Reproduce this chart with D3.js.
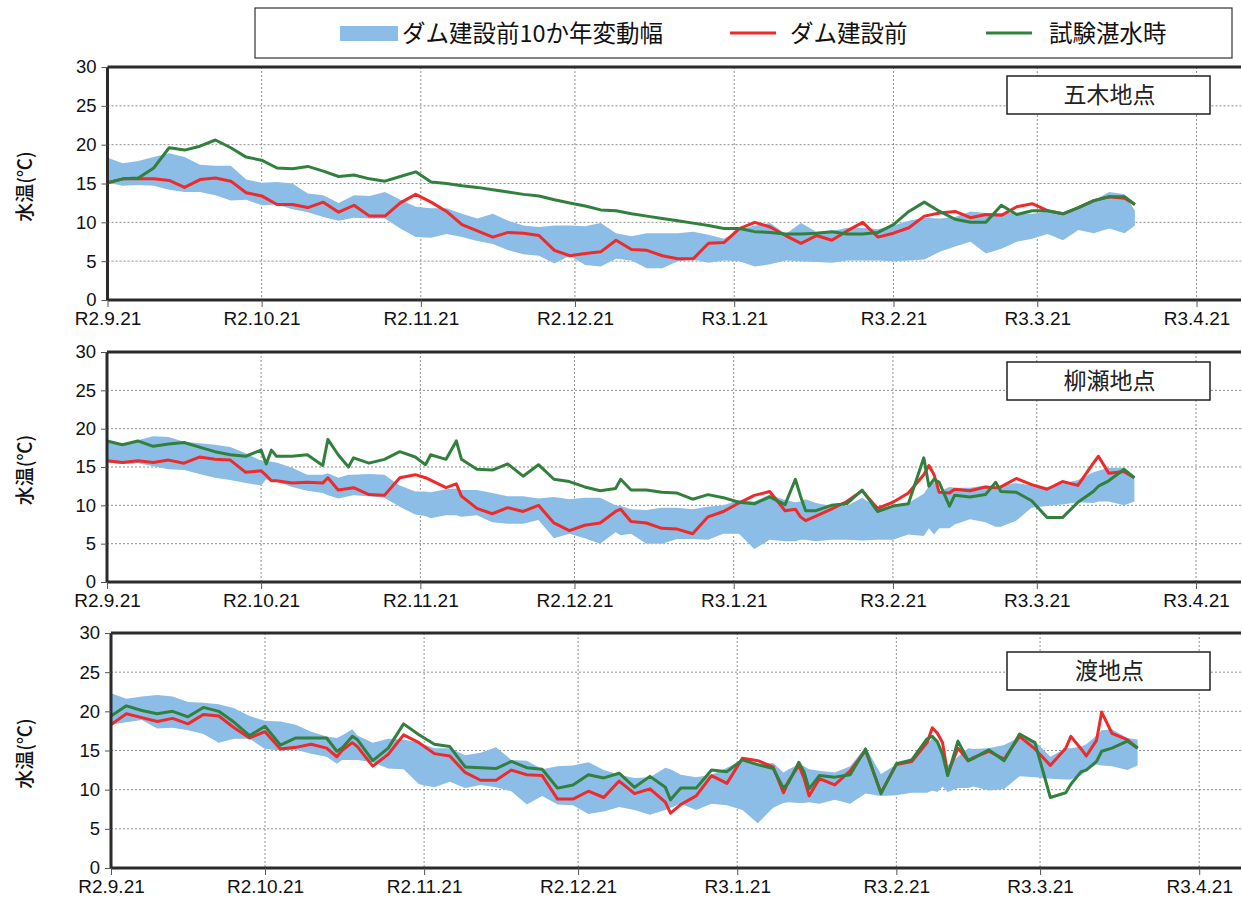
<!DOCTYPE html>
<html><head><meta charset="utf-8">
<script src="https://cdn.jsdelivr.net/npm/d3@7"></script>
<style>body{margin:0;background:#fff}</style>
</head><body>
<svg id="c" width="1242" height="904"></svg>
<script>
// ---------- DATA ----------
const startDate = new Date(2020, 8, 21); // R2.9.21
const tickDates = ["2020-09-21","2020-10-21","2020-11-21","2020-12-21","2021-01-21","2021-02-21","2021-03-21","2021-04-21"];
const tickLabels = ["R2.9.21","R2.10.21","R2.11.21","R2.12.21","R3.1.21","R3.2.21","R3.3.21","R3.4.21"];
const yTicks = [0,5,10,15,20,25,30];
const stations = ["五木地点","柳瀬地点","渡地点"];
const legendLabels = ["ダム建設前10か年変動幅","ダム建設前","試験湛水時"];

// days since R2.9.21
const days1 = [0,3,6,9,12,15,18,21,24,27,30,33,36,39,42,45,48,51,54,57,60,63,66,69,72,75,78,81,84,87,90,93,96,99,102,105,108,111,114,117,120,123,126,129,132,135,138,141,144,147,150,153,156,159,162,165,168,171,174,177,180,183,186,189,192,195,198,200];
const bandLo1 = [15.1,14.7,14.8,14.7,14.2,13.9,13.9,13.5,12.8,12.9,12.2,12.3,11.7,11.3,10.7,10.2,10.6,10.5,10.5,9.2,8.1,8.0,8.5,8.1,7.6,7.2,6.4,5.9,5.7,4.7,5.7,4.5,4.3,5.3,5.1,4.1,4.1,5.0,5.2,4.8,5.1,5.0,4.3,4.6,5.1,5.0,4.9,4.8,5.1,5.1,5.1,5.0,5.1,5.2,6.2,6.9,7.5,6.0,6.6,7.5,7.9,8.5,7.7,9.0,8.6,9.2,8.6,9.6];
const bandHi1 = [18.3,17.6,17.9,18.4,18.9,18.4,17.4,17.3,17.3,15.5,15.1,15.2,15.0,13.7,13.5,12.5,13.5,13.4,13.9,12.9,12.0,11.8,11.8,11.1,10.5,11.1,10.2,9.6,9.4,9.6,9.6,9.5,9.9,8.6,8.2,8.6,8.6,8.6,8.8,8.4,7.9,9.0,9.6,9.9,8.5,9.9,8.8,8.9,9.3,9.3,9.1,9.6,10.2,10.6,10.5,10.7,11.4,11.2,11.2,11.2,11.1,11.4,11.2,12.0,12.8,13.9,13.6,11.5];
const before1 = [15.1,15.6,15.6,15.6,15.4,14.5,15.5,15.7,15.3,13.8,13.4,12.3,12.3,11.9,12.6,11.3,12.2,10.8,10.8,12.5,13.6,12.6,11.4,9.7,8.9,8.1,8.7,8.6,8.3,6.4,5.7,6.0,6.2,7.7,6.5,6.4,5.7,5.3,5.3,7.3,7.4,9.2,10.0,9.4,8.3,7.3,8.3,7.7,8.9,10.0,8.1,8.6,9.3,10.8,11.2,11.4,10.6,11.0,10.9,12.0,12.4,11.5,11.1,11.9,12.8,13.3,13.1,12.3];
const trial1 = [15.1,15.6,15.7,17.0,19.6,19.3,19.8,20.6,19.6,18.4,18.0,17.0,16.9,17.2,16.6,15.9,16.1,15.6,15.3,15.9,16.5,15.2,15.0,14.7,14.5,14.2,13.9,13.6,13.4,12.9,12.5,12.1,11.6,11.5,11.1,10.8,10.5,10.2,9.9,9.6,9.2,9.2,8.8,8.7,8.5,8.5,8.6,8.8,8.5,8.5,8.7,9.7,11.4,12.6,11.4,10.4,10.0,10.0,12.2,11.0,11.5,11.5,11.1,11.9,12.8,13.3,13.3,12.3];

const days2 = [0,3,6,9,12,15,18,21,24,27,30,31,32,33,36,39,42,43,45,47,48,51,54,57,60,62,63,66,68,69,72,75,78,81,84,87,90,93,96,99,100,102,105,108,111,114,117,120,123,126,129,132,134,135,136,138,141,144,147,150,153,156,159,160,161,162,164,165,168,171,173,174,177,180,183,186,189,192,193,195,198,200];
const bandLo2 = [15.6,15.4,15.5,15.1,14.7,14.6,14.1,13.6,13.3,12.9,12.6,13.4,13.1,13.1,12.4,11.9,11.6,11.3,10.9,11.2,11.3,11.2,11.0,9.8,8.8,8.6,8.3,8.7,8.7,8.5,8.7,7.8,7.6,7.6,8.1,5.7,6.3,5.7,5.0,6.5,6.1,6.3,5.0,5.0,5.6,5.6,5.5,6.3,6.3,4.3,5.5,5.3,5.3,5.5,5.5,5.3,5.5,5.5,5.4,5.5,5.5,6.2,6.0,7.0,6.2,7.0,7.0,7.5,8.2,7.8,7.2,7.2,8.0,9.7,9.9,10.1,10.4,10.3,10.5,10.5,10.0,10.5];
const bandHi2 = [18.4,18.0,18.5,19.0,18.9,18.3,18.1,17.9,17.6,16.8,15.8,15.8,15.7,15.6,14.9,14.0,14.0,14.2,13.6,14.0,14.0,14.1,14.0,12.6,11.8,11.8,11.7,12.1,12.2,12.0,12.0,11.6,11.2,11.2,10.9,11.1,10.8,11.0,11.0,10.0,9.9,9.5,9.4,9.7,9.7,9.5,9.8,10.0,10.7,10.5,11.4,10.7,10.4,10.5,10.8,10.3,9.9,9.9,11.0,9.7,9.9,10.3,11.5,12.5,13.0,11.8,12.4,12.3,12.3,12.6,12.4,12.6,12.9,12.6,12.4,12.8,13.3,14.3,14.5,14.9,14.9,13.5];
const before2 = [15.8,15.6,15.8,15.6,15.9,15.5,16.3,16.0,15.9,14.3,14.5,13.9,13.2,13.2,12.9,13.0,12.9,13.6,12.0,12.2,12.3,11.4,11.3,13.6,14.0,13.6,13.3,12.3,12.8,11.2,9.6,8.9,9.7,9.2,10.0,7.7,6.7,7.4,7.7,9.2,9.5,7.9,7.7,7.0,6.9,6.3,8.5,9.2,10.3,11.3,11.8,9.3,9.5,8.5,8.0,8.6,9.5,10.5,11.9,9.6,10.4,11.6,14.0,15.2,14.0,11.7,11.6,12.1,11.9,12.4,12.3,12.4,13.5,12.7,12.1,13.1,12.6,15.5,16.4,14.2,14.4,13.6];
const trial2 = [18.4,17.9,18.4,17.7,18.0,18.2,17.6,17.0,16.6,16.4,17.2,15.4,17.2,16.4,16.4,16.6,15.2,18.6,16.6,15.0,16.2,15.5,16.0,17.0,16.3,15.3,16.6,16.0,18.4,16.0,14.7,14.6,15.4,13.8,15.3,13.4,13.1,12.4,11.9,12.2,13.4,12.0,12.0,11.7,11.6,10.8,11.4,11.0,10.4,10.2,11.1,10.1,13.4,11.2,9.3,9.3,10.0,10.2,12.0,9.2,9.9,10.2,16.2,12.5,13.4,13.0,9.9,11.3,11.1,11.4,13.0,11.8,11.7,10.6,8.4,8.4,10.4,11.8,12.5,13.2,14.7,13.6];

const days3 = [0,3,6,9,12,15,18,21,24,27,30,33,36,39,42,44,45,47,48,51,54,57,60,63,66,69,72,75,78,81,84,87,90,93,96,99,102,105,108,109,111,114,117,120,123,126,129,131,132,134,135,136,138,141,144,147,150,153,156,159,160,161,162,163,165,167,168,171,174,177,180,183,186,187,189,190,192,193,195,198,200];
const bandLo3 = [18.3,18.6,18.9,17.8,17.9,17.6,17.1,16.0,16.5,16.5,15.2,15.0,15.1,14.6,14.2,13.3,13.8,13.8,13.8,13.5,12.7,12.6,10.7,10.3,11.0,10.2,10.6,10.3,9.8,8.1,9.2,8.1,8.0,6.9,7.2,7.8,7.4,6.8,7.4,7.7,8.2,7.4,8.2,8.0,7.4,5.7,7.7,8.3,8.4,8.3,8.3,8.4,8.2,8.7,8.2,9.5,9.2,9.3,9.6,9.6,9.9,9.7,10.4,9.7,10.2,10.2,10.4,9.9,10.1,11.7,11.6,11.4,11.3,11.3,11.8,12.4,13.2,13.1,13.0,12.5,13.1];
const bandHi3 = [22.3,21.6,21.9,22.1,21.9,21.2,21.1,20.9,20.4,19.4,18.8,18.7,18.3,17.4,16.8,16.6,16.9,17.7,16.9,16.0,16.5,16.4,16.0,15.3,15.3,14.4,14.7,15.4,13.8,13.7,12.6,13.0,13.1,13.5,12.5,11.9,11.5,11.6,12.8,12.6,11.9,11.6,11.9,12.8,13.8,13.3,13.4,12.2,12.6,13.2,13.0,12.6,12.4,12.2,13.0,15.4,12.0,13.2,14.0,15.8,16.6,16.4,14.3,13.1,14.2,15.3,15.2,15.3,15.7,16.7,16.2,14.2,15.3,15.3,15.5,15.8,16.9,17.6,17.7,16.6,16.4];
const before3 = [18.3,19.7,19.2,18.7,19.1,18.4,19.6,19.4,17.9,16.6,17.4,15.2,15.4,15.8,15.3,14.2,15.0,16.0,15.5,13.0,14.5,17.0,16.0,14.6,14.3,12.2,11.2,11.2,12.5,11.9,11.8,8.8,8.8,9.8,9.0,11.1,9.5,10.1,8.4,7.0,8.1,9.2,11.8,10.8,14.0,13.7,12.9,9.6,11.1,13.1,11.5,9.2,11.4,10.6,12.4,15.0,9.6,13.2,13.6,16.0,17.9,17.2,16.0,12.0,15.3,13.7,14.1,14.9,13.9,16.8,15.2,13.1,15.3,16.8,15.2,14.3,16.3,19.9,17.2,16.4,15.3];
const trial3 = [19.4,20.7,20.1,19.7,20.0,19.3,20.5,20.0,18.6,16.9,18.1,15.7,16.6,16.6,16.6,14.9,15.3,16.8,16.4,13.7,15.3,18.4,17.0,15.8,15.5,12.9,12.8,12.7,13.6,12.8,12.6,10.2,10.6,11.9,11.5,12.1,10.3,11.7,10.3,8.7,10.2,10.2,12.5,12.3,13.8,13.2,12.7,10.2,10.9,13.5,12.3,10.1,11.8,11.6,11.9,15.2,9.5,13.3,13.8,16.5,16.8,16.1,14.5,11.8,16.2,13.7,14.0,15.1,13.7,17.1,16.0,9.0,9.6,10.7,12.3,12.5,13.6,14.9,15.3,16.2,15.3];

const panelsData = [
  {days: days1, lo: bandLo1, hi: bandHi1, before: before1, trial: trial1},
  {days: days2, lo: bandLo2, hi: bandHi2, before: before2, trial: trial2},
  {days: days3, lo: bandLo3, hi: bandHi3, before: before3, trial: trial3}
];

// ---------- LAYOUT ----------
const layout = [
  {left:107.5, right:1241, top:67,  bottom:300, box:{x:1007,y:76,w:203,h:38}},
  {left:107,   right:1241, top:352, bottom:582, box:{x:1007,y:362,w:203,h:38}},
  {left:111,   right:1241, top:633, bottom:868, box:{x:1007,y:652,w:203,h:38}}
];
const COL_BAND = "#8bbde6", COL_RED = "#ee2a2a", COL_GREEN = "#32803e";
const latin = "'Liberation Sans',Arial,sans-serif";
const cjk = "'Noto Sans CJK JP','Noto Sans',sans-serif";

const svg = d3.select("#c");
const parse = d3.timeParse("%Y-%m-%d");
const tDates = tickDates.map(parse);

layout.forEach((L, i) => {
  const D = panelsData[i];
  const g = svg.append("g");
  const pxPerDay = (i === 2 ? 5.133 : 5.137);
  const x = d3.scaleTime()
    .domain([tDates[0], tDates[tDates.length-1]])
    .range([L.left, L.left + pxPerDay * 212]);
  const y = d3.scaleLinear().domain([0,30]).range([L.bottom, L.top]);
  const dateOf = d => d3.timeDay.offset(startDate, d);

  // gridlines
  g.append("g").selectAll("line").data(yTicks.filter(v => v > 0 && v < 30)).join("line")
    .attr("x1", L.left).attr("x2", L.right)
    .attr("y1", d => y(d)).attr("y2", d => y(d))
    .attr("stroke", "#8f8f8f").attr("stroke-width", 1).attr("stroke-dasharray", "2,2");
  g.append("g").selectAll("line").data(tDates.slice(1)).join("line")
    .attr("x1", d => x(d)).attr("x2", d => x(d))
    .attr("y1", L.top).attr("y2", L.bottom)
    .attr("stroke", "#8f8f8f").attr("stroke-width", 1).attr("stroke-dasharray", "2,2");

  const pts = D.days.map((d, k) => ({date: dateOf(d), lo: D.lo[k], hi: D.hi[k], b: D.before[k], t: D.trial[k]}));

  g.append("path").datum(pts)
    .attr("d", d3.area().x(p => x(p.date)).y0(p => y(p.lo)).y1(p => y(p.hi)))
    .attr("fill", COL_BAND);
  g.append("path").datum(pts)
    .attr("d", d3.line().x(p => x(p.date)).y(p => y(p.b)))
    .attr("fill", "none").attr("stroke", COL_RED).attr("stroke-width", 3).attr("stroke-linejoin", "round");
  g.append("path").datum(pts)
    .attr("d", d3.line().x(p => x(p.date)).y(p => y(p.t)))
    .attr("fill", "none").attr("stroke", COL_GREEN).attr("stroke-width", 3).attr("stroke-linejoin", "round");

  // frame
  g.append("line").attr("x1", L.left).attr("x2", L.right).attr("y1", L.top).attr("y2", L.top).attr("stroke", "#2b2b2b").attr("stroke-width", 3);
  g.append("line").attr("x1", L.left).attr("x2", L.right).attr("y1", L.bottom).attr("y2", L.bottom).attr("stroke", "#2b2b2b").attr("stroke-width", 3);
  g.append("line").attr("x1", L.left).attr("x2", L.left).attr("y1", L.top).attr("y2", L.bottom).attr("stroke", "#2b2b2b").attr("stroke-width", 3);

  // axes
  const yAxis = d3.axisLeft(y).tickValues(yTicks).tickSize(6).tickPadding(5);
  const ya = g.append("g").attr("transform", `translate(${L.left},0)`).call(yAxis);
  ya.select(".domain").remove();
  ya.selectAll("line").attr("stroke", "#555");
  ya.selectAll("text").attr("font-family", latin).attr("font-size", 18.5).attr("fill", "#111");

  const xAxis = d3.axisBottom(x).tickValues(tDates).tickFormat((d, k) => tickLabels[k]).tickSize(7).tickPadding(5);
  const xa = g.append("g").attr("transform", `translate(0,${L.bottom})`).call(xAxis);
  xa.select(".domain").remove();
  xa.selectAll("line").attr("stroke", "#555");
  xa.selectAll("text").attr("font-family", latin).attr("font-size", 19).attr("fill", "#111");

  // y title
  g.append("text")
    .attr("transform", `translate(32,${(L.top + L.bottom) / 2 + 3}) rotate(-90)`)
    .attr("text-anchor", "middle")
    .attr("font-family", cjk).attr("font-size", 19).attr("font-weight", 500).attr("fill", "#111")
    .text("水温(℃)");

  // station label
  g.append("rect").attr("x", L.box.x).attr("y", L.box.y).attr("width", L.box.w).attr("height", L.box.h)
    .attr("fill", "#fff").attr("stroke", "#222").attr("stroke-width", 1.5);
  g.append("text").attr("x", L.box.x + L.box.w / 2 + 1).attr("y", L.box.y + L.box.h / 2 + 8)
    .attr("text-anchor", "middle").attr("font-family", cjk).attr("font-size", 23).attr("fill", "#222")
    .text(stations[i]);
});

// legend
const lg = svg.append("g");
lg.append("rect").attr("x", 255).attr("y", 8).attr("width", 977).attr("height", 50)
  .attr("fill", "#fff").attr("stroke", "#333").attr("stroke-width", 1.2);
lg.append("rect").attr("x", 340).attr("y", 26).attr("width", 58).attr("height", 15).attr("fill", COL_BAND);
lg.append("text").attr("x", 402).attr("y", 42).attr("font-family", cjk).attr("font-size", 23.5).attr("fill", "#111").text(legendLabels[0]);
lg.append("line").attr("x1", 730).attr("x2", 776).attr("y1", 33).attr("y2", 33).attr("stroke", COL_RED).attr("stroke-width", 3);
lg.append("text").attr("x", 790).attr("y", 42).attr("font-family", cjk).attr("font-size", 23.5).attr("fill", "#111").text(legendLabels[1]);
lg.append("line").attr("x1", 986).attr("x2", 1032).attr("y1", 33).attr("y2", 33).attr("stroke", COL_GREEN).attr("stroke-width", 3);
lg.append("text").attr("x", 1049).attr("y", 42).attr("font-family", cjk).attr("font-size", 23.5).attr("fill", "#111").text(legendLabels[2]);
</script>
</body></html>
